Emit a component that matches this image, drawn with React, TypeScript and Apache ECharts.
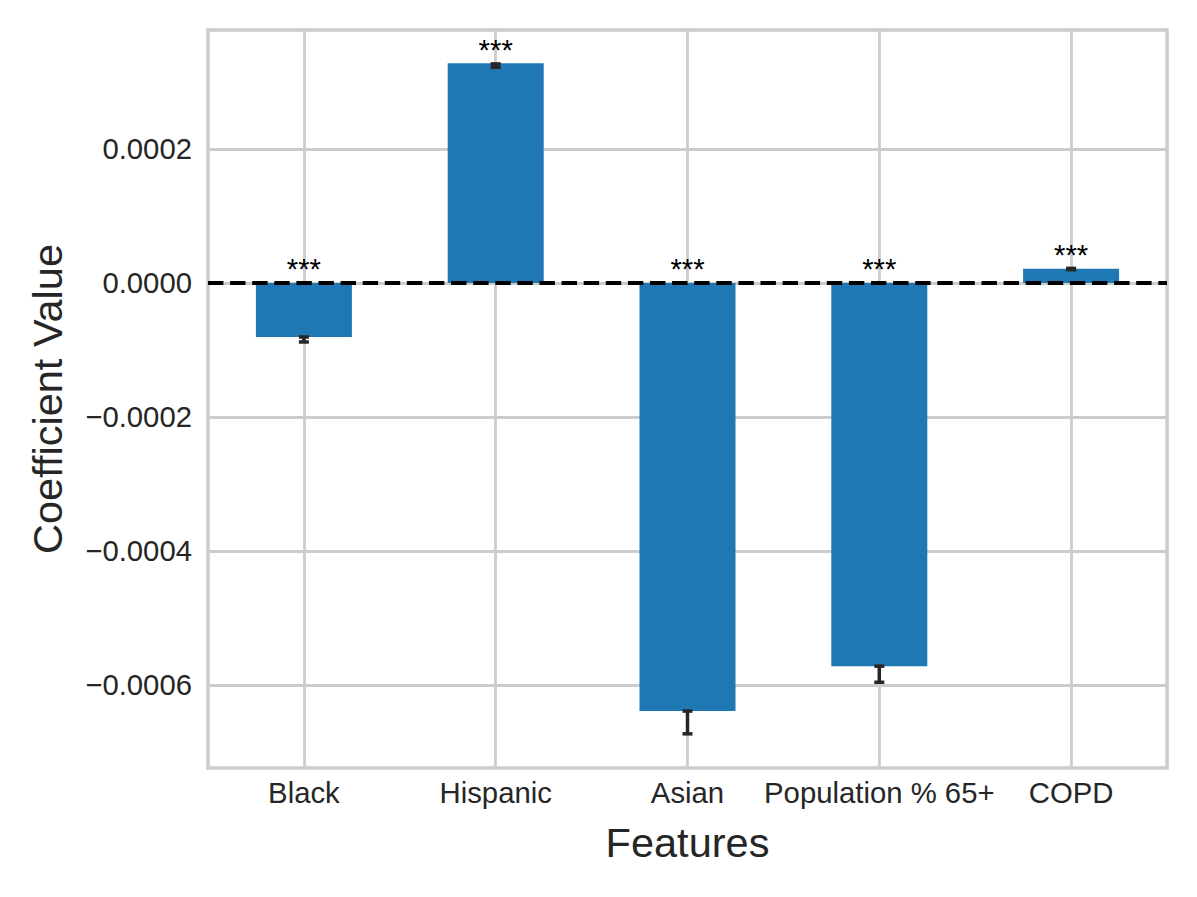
import React, { useEffect, useRef } from "react";
import * as echarts from "echarts";

const categories = ["Black", "Hispanic", "Asian", "Population % 65+", "COPD"];
const coef = [-0.0000806, 0.000328, -0.000639, -0.000572, 0.0000212];
const ciLow = [-0.0000881, 0.000322, -0.000673, -0.000596, 0.0000198];
const ciHigh = [-0.0000806, 0.000327, -0.000639, -0.000572, 0.0000218];
const stars = ["***", "***", "***", "***", "***"];
const yTicks = [-0.0006, -0.0004, -0.0002, 0, 0.0002];
const xTicks = [0, 1, 2, 3, 4];

const FONT = "'Liberation Sans', Arial, sans-serif";
const TXT = "#262626";

function fmtY(v: number): string {
  if (Math.abs(v) < 1e-12) return "0.0000";
  const s = Math.abs(v).toFixed(4);
  return v < 0 ? "\u2212" + s : s;
}

export default function App() {
  const ref = useRef<HTMLDivElement>(null);
  useEffect(() => {
    if (!ref.current) return;
    const chart = echarts.init(ref.current, undefined, { renderer: "svg" });
    const barData = coef.map((v, i) => [i, v]);
    const errData = coef.map((v, i) => [i, ciLow[i], ciHigh[i]]);
    chart.setOption({
      animation: false,
      backgroundColor: "#ffffff",
      grid: {
        left: 208,
        right: 30,
        top: 30,
        bottom: 129,
        show: true,
        borderColor: "#cccccc",
        borderWidth: 3.5,
        backgroundColor: "transparent",
      },
      xAxis: {
        type: "value",
        min: -0.5,
        max: 4.5,
        name: "Features",
        nameLocation: "middle",
        nameGap: 53,
        nameTextStyle: { fontFamily: FONT, fontSize: 41.5, color: TXT },
        axisLine: { show: false },
        axisTick: { show: false, customValues: xTicks },
        axisLabel: {
          customValues: xTicks,
          formatter: (v: number) => categories[Math.round(v)] ?? "",
          fontFamily: FONT,
          fontSize: 29.3,
          color: TXT,
          margin: 10,
        },
        splitLine: { show: true, lineStyle: { color: "#cccccc", width: 2.8 } },
      },
      yAxis: {
        type: "value",
        min: -0.000724,
        max: 0.0003776,
        name: "Coefficient Value",
        nameLocation: "middle",
        nameGap: 140,
        nameTextStyle: { fontFamily: FONT, fontSize: 41.5, color: TXT },
        axisLine: { show: false },
        axisTick: { show: false, customValues: yTicks },
        axisLabel: {
          customValues: yTicks,
          formatter: (v: number) => fmtY(v),
          fontFamily: FONT,
          fontSize: 29.3,
          color: TXT,
          margin: 16,
        },
        splitLine: { show: true, lineStyle: { color: "#cccccc", width: 2.8 } },
      },
      series: [
        {
          type: "bar",
          data: barData,
          barWidth: 96,
          itemStyle: { color: "#1f77b4" },
          z: 2,
        },
        {
          type: "custom",
          data: errData,
          z: 5,
          renderItem: (params: any, api: any) => {
            const x = api.value(0);
            const lo = api.value(1);
            const hi = api.value(2);
            const pLo = api.coord([x, lo]);
            const pHi = api.coord([x, hi]);
            const ref0 = api.coord([x, Math.max(0, hi)]);
            const cx = pLo[0];
            const cap = 5;
            const ls = { stroke: "#262626", lineWidth: 3.5 };
            return {
              type: "group",
              children: [
                { type: "line", shape: { x1: cx, y1: pLo[1], x2: cx, y2: pHi[1] }, style: ls },
                { type: "line", shape: { x1: cx - cap, y1: pLo[1], x2: cx + cap, y2: pLo[1] }, style: ls },
                { type: "line", shape: { x1: cx - cap, y1: pHi[1], x2: cx + cap, y2: pHi[1] }, style: ls },
                {
                  type: "text",
                  x: cx,
                  y: ref0[1] - 14,
                  style: {
                    text: stars[params.dataIndex],
                    fontFamily: FONT,
                    fontSize: 29.3,
                    fill: "#000000",
                    align: "center",
                    verticalAlign: "middle",
                  },
                },
              ],
            };
          },
          markLine: {
            silent: true,
            symbol: "none",
            label: { show: false },
            lineStyle: { color: "#000000", type: [15.4, 6.7], width: 4 },
            data: [{ yAxis: 0 }],
          },
        },
      ],
    });
    return () => chart.dispose();
  }, []);
  return (
    <div
      ref={ref}
      style={{ position: "fixed", left: 0, top: 0, width: 1197, height: 897 }}
    />
  );
}
